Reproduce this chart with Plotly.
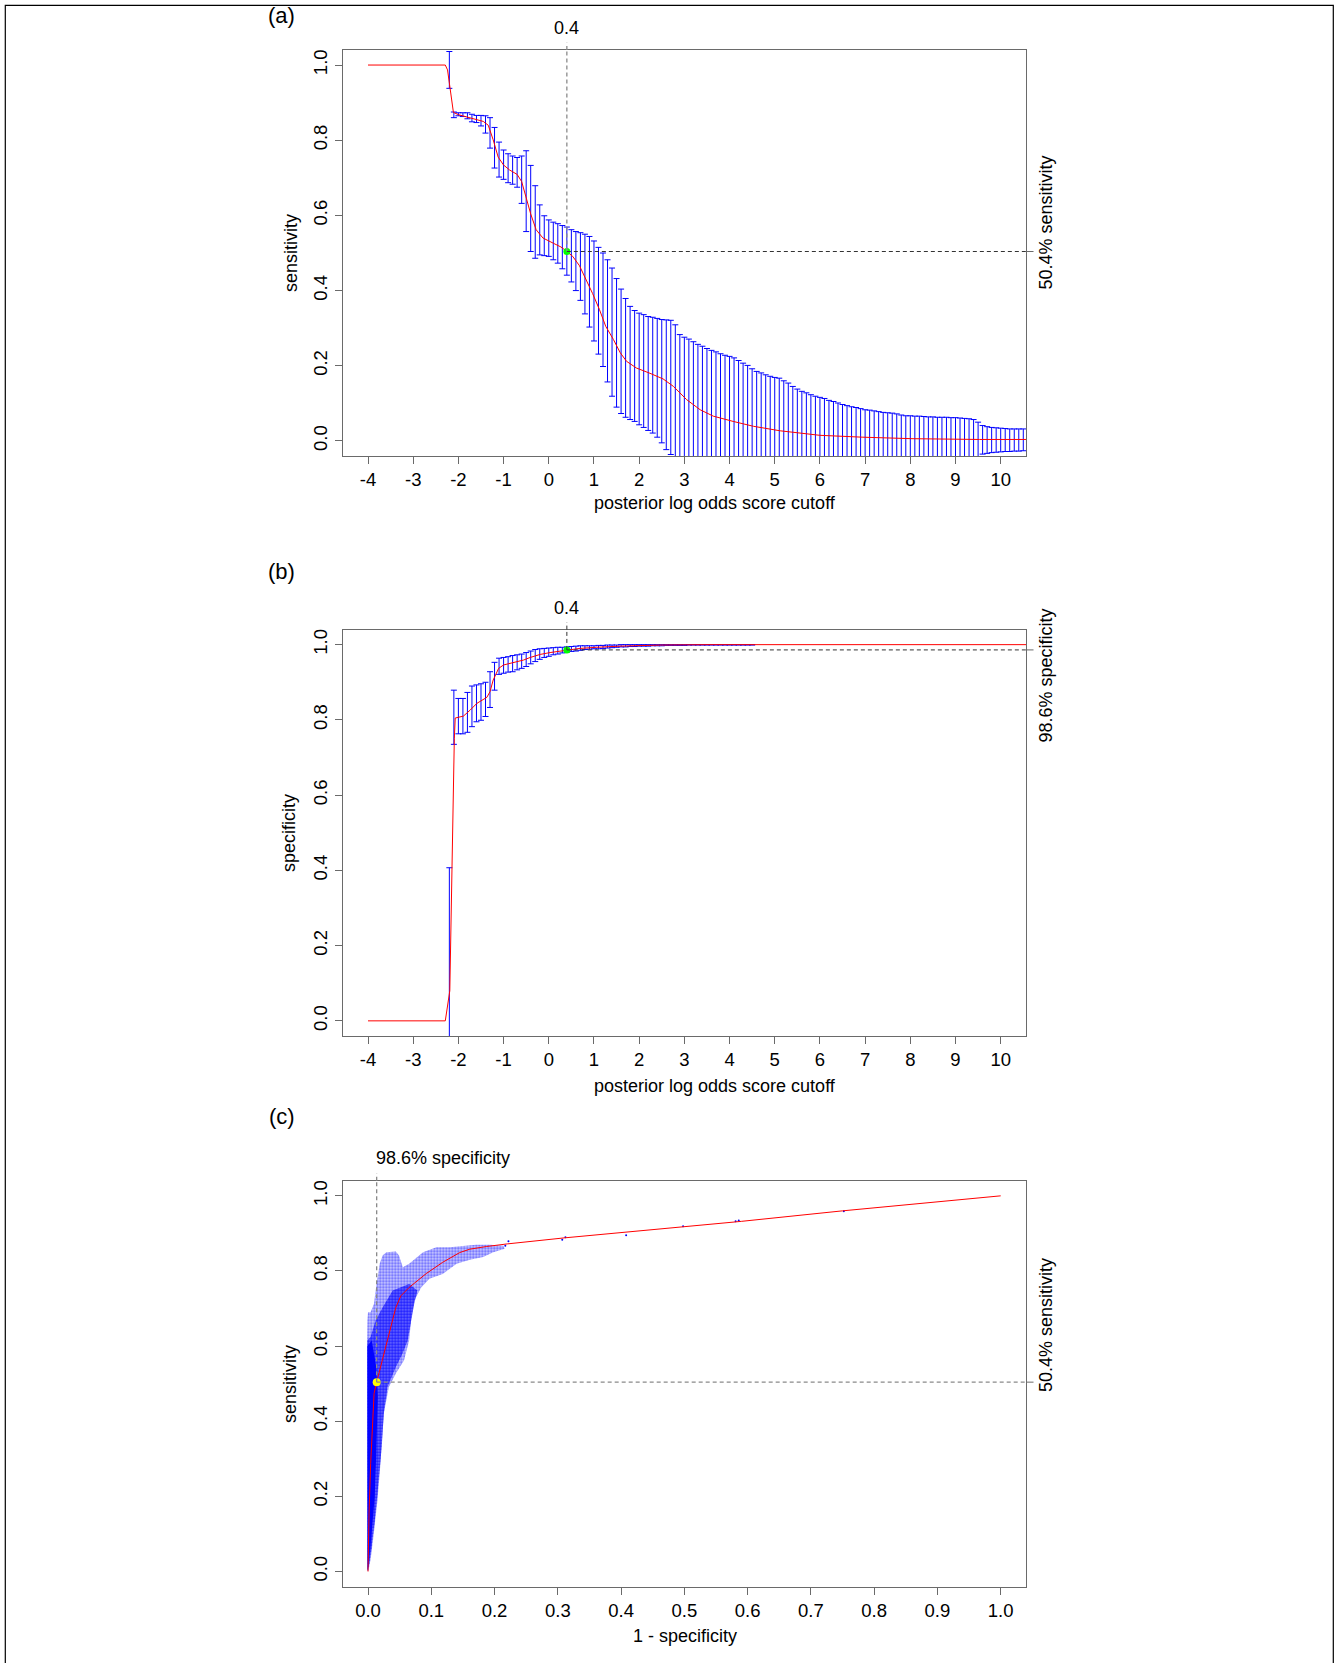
import plotly.graph_objects as go

W, H = 1335, 1663
FONT = "Liberation Sans, Arial, Helvetica, sans-serif"

# ---------------- panel (a): sensitivity vs cutoff ----------------
sens_cut = [-2.2, -2.1, -2.0, -1.9, -1.8, -1.7, -1.6, -1.5, -1.4, -1.3, -1.2, -1.1, -1.0, -0.9, -0.8, -0.7,
            -0.6, -0.5, -0.4, -0.3, -0.2, -0.1, 0.0, 0.1, 0.2, 0.3, 0.4, 0.5, 0.6, 0.7, 0.8, 0.9,
            1.0, 1.1, 1.2, 1.3, 1.4, 1.5, 1.6, 1.7, 1.8, 1.9, 2.0, 2.1, 2.2, 2.3, 2.4, 2.5,
            2.6, 2.7, 2.8, 2.9, 3.0, 3.1, 3.2, 3.3, 3.4, 3.5, 3.6, 3.7, 3.8, 3.9, 4.0, 4.1,
            4.2, 4.3, 4.4, 4.5, 4.6, 4.7, 4.8, 4.9, 5.0, 5.1, 5.2, 5.3, 5.4, 5.5, 5.6, 5.7,
            5.8, 5.9, 6.0, 6.1, 6.2, 6.3, 6.4, 6.5, 6.6, 6.7, 6.8, 6.9, 7.0, 7.1, 7.2, 7.3,
            7.4, 7.5, 7.6, 7.7, 7.8, 7.9, 8.0, 8.1, 8.2, 8.3, 8.4, 8.5, 8.6, 8.7, 8.8, 8.9,
            9.0, 9.1, 9.2, 9.3, 9.4, 9.5, 9.6, 9.7, 9.8, 9.9, 10.0, 10.1, 10.2, 10.3, 10.4, 10.5]
sens_hi = [1.036, 0.875, 0.873, 0.873, 0.873, 0.869, 0.866, 0.866, 0.865, 0.860, 0.834, 0.795, 0.774, 0.764, 0.758, 0.754,
           0.758, 0.772, 0.733, 0.679, 0.628, 0.599, 0.588, 0.582, 0.578, 0.573, 0.569, 0.562, 0.557, 0.554, 0.550, 0.544,
           0.532, 0.515, 0.500, 0.482, 0.460, 0.432, 0.404, 0.379, 0.358, 0.347, 0.340, 0.336, 0.331, 0.329, 0.326, 0.323,
           0.322, 0.321, 0.309, 0.283, 0.276, 0.271, 0.264, 0.257, 0.252, 0.246, 0.241, 0.237, 0.232, 0.228, 0.225, 0.221,
           0.214, 0.207, 0.201, 0.192, 0.185, 0.181, 0.176, 0.172, 0.169, 0.167, 0.160, 0.154, 0.145, 0.138, 0.132, 0.128,
           0.123, 0.119, 0.116, 0.113, 0.108, 0.105, 0.101, 0.097, 0.094, 0.091, 0.089, 0.086, 0.083, 0.082, 0.080, 0.078,
           0.076, 0.075, 0.074, 0.072, 0.069, 0.067, 0.067, 0.066, 0.066, 0.065, 0.064, 0.064, 0.063, 0.063, 0.063, 0.062,
           0.062, 0.061, 0.060, 0.059, 0.057, 0.050, 0.041, 0.038, 0.036, 0.035, 0.034, 0.033, 0.032, 0.032, 0.032, 0.032]
sens_lo = [0.938, 0.860, 0.865, 0.863, 0.857, 0.849, 0.847, 0.838, 0.819, 0.779, 0.726, 0.702, 0.696, 0.687, 0.683, 0.675,
           0.632, 0.557, 0.504, 0.486, 0.495, 0.493, 0.491, 0.482, 0.473, 0.458, 0.441, 0.423, 0.400, 0.374, 0.338, 0.303,
           0.266, 0.231, 0.198, 0.157, 0.119, 0.090, 0.073, 0.063, 0.057, 0.052, 0.043, 0.036, 0.028, 0.021, 0.010, -0.005,
           -0.023, -0.036, -0.050, -0.060, -0.065, -0.070, -0.070, -0.070, -0.070, -0.070, -0.070, -0.070, -0.070, -0.070, -0.070, -0.070,
           -0.070, -0.070, -0.070, -0.070, -0.070, -0.070, -0.070, -0.070, -0.070, -0.070, -0.070, -0.070, -0.070, -0.070, -0.070, -0.070,
           -0.070, -0.070, -0.070, -0.070, -0.070, -0.070, -0.070, -0.070, -0.070, -0.070, -0.070, -0.070, -0.070, -0.070, -0.070, -0.070,
           -0.070, -0.070, -0.070, -0.070, -0.070, -0.070, -0.070, -0.070, -0.070, -0.070, -0.070, -0.070, -0.070, -0.070, -0.070, -0.070,
           -0.070, -0.070, -0.065, -0.060, -0.055, -0.050, -0.035, -0.033, -0.031, -0.030, -0.029, -0.028, -0.028, -0.027, -0.027, -0.026]
sens_curve_x = [-4.0, -2.29, -2.24, -2.11, -2.0, -1.8, -1.6, -1.45, -1.34, -1.23, -1.12, -1.0, -0.87, -0.7, -0.6,
                -0.5, -0.4, -0.28, -0.13, 0.1, 0.27, 0.4, 0.53, 0.68, 0.83, 0.97, 1.12, 1.26, 1.43, 1.58, 1.72,
                1.94, 2.24, 2.53, 2.76, 3.05, 3.35, 3.64, 4.08, 4.53, 5.12, 6.0, 6.95, 8.06, 9.53, 10.6]
sens_curve_y = [1.0, 1.0, 0.987, 0.874, 0.868, 0.862, 0.856, 0.850, 0.840, 0.801, 0.755, 0.734, 0.721, 0.709, 0.690,
                0.648, 0.604, 0.562, 0.540, 0.526, 0.516, 0.504, 0.491, 0.466, 0.429, 0.392, 0.350, 0.305, 0.270, 0.235, 0.212,
                0.194, 0.180, 0.165, 0.145, 0.110, 0.083, 0.066, 0.052, 0.039, 0.027, 0.015, 0.010, 0.006, 0.004, 0.004]

# ---------------- panel (b): specificity vs cutoff ----------------
spec_cut = [-2.2, -2.1, -2.0, -1.9, -1.8, -1.7, -1.6, -1.5, -1.4, -1.3, -1.2, -1.1, -1.0, -0.9, -0.8, -0.7,
            -0.6, -0.5, -0.4, -0.3, -0.2, -0.1, 0.0, 0.1, 0.2, 0.3, 0.4, 0.5, 0.6, 0.7, 0.8, 0.9,
            1.0, 1.1, 1.2, 1.3, 1.4, 1.5, 1.6, 1.7, 1.8, 1.9, 2.0, 2.1, 2.2, 2.3, 2.4, 2.5,
            2.6, 2.7, 2.8, 2.9, 3.0, 3.1, 3.2, 3.3, 3.4, 3.5, 3.6, 3.7, 3.8, 3.9, 4.0, 4.1,
            4.2, 4.3, 4.4, 4.5]
spec_hi = [0.407, 0.879, 0.857, 0.857, 0.873, 0.890, 0.893, 0.896, 0.900, 0.928, 0.953, 0.964, 0.966, 0.968, 0.971, 0.973,
           0.975, 0.979, 0.983, 0.987, 0.989, 0.990, 0.991, 0.992, 0.993, 0.993, 0.994, 0.995, 0.996, 0.997, 0.997, 0.997,
           0.997, 0.998, 0.998, 0.999, 0.999, 0.999, 1.000, 1.000, 1.000, 1.000, 1.000, 1.000, 1.000, 1.000, 1.000, 1.000,
           1.000, 1.000, 1.000, 1.000, 1.000, 1.000, 1.000, 1.000, 1.000, 1.000, 1.000, 1.000, 1.000, 1.000, 1.000, 1.000,
           1.000, 1.000, 1.000, 1.000]
spec_lo = [-0.100, 0.735, 0.763, 0.763, 0.767, 0.782, 0.795, 0.799, 0.809, 0.833, 0.879, 0.921, 0.924, 0.927, 0.928, 0.933,
           0.937, 0.942, 0.949, 0.955, 0.961, 0.966, 0.969, 0.973, 0.975, 0.978, 0.980, 0.982, 0.983, 0.985, 0.987, 0.988,
           0.989, 0.989, 0.990, 0.991, 0.992, 0.993, 0.994, 0.994, 0.995, 0.995, 0.996, 0.996, 0.996, 0.997, 0.997, 0.997,
           0.998, 0.998, 0.998, 0.998, 0.998, 0.999, 0.999, 0.999, 0.999, 0.999, 0.999, 0.999, 0.999, 0.999, 0.999, 0.999,
           0.999, 0.999, 0.999, 0.999]
spec_curve_x = [-4.0, -2.29, -2.19, -2.12, -2.09, -2.07, -1.89, -1.74, -1.59, -1.37, -1.30, -1.23, -1.11, -1.0,
                -0.78, -0.56, -0.41, -0.19, 0.03, 0.25, 0.4, 0.69, 1.06, 1.58, 2.5, 3.5, 10.6]
spec_curve_y = [0.0, 0.0, 0.08, 0.60, 0.75, 0.805, 0.810, 0.826, 0.844, 0.860, 0.875, 0.906, 0.937, 0.946,
                0.952, 0.959, 0.966, 0.974, 0.979, 0.982, 0.986, 0.990, 0.993, 0.996, 0.999, 1.0, 1.0]

# ---------------- panel (c): ROC ----------------
roc_x = [0.0, 0.0016, 0.0042, 0.0069, 0.0096, 0.0137, 0.020, 0.028, 0.036, 0.044, 0.052, 0.065, 0.092, 0.118,
         0.145, 0.161, 0.187, 0.22, 0.31, 0.405, 0.5, 0.59, 0.75, 1.0]
roc_y = [0.0, 0.154, 0.287, 0.403, 0.474, 0.504, 0.544, 0.597, 0.650, 0.703, 0.734, 0.756, 0.793, 0.823,
         0.849, 0.858, 0.865, 0.872, 0.888, 0.903, 0.918, 0.932, 0.960, 1.0]
# outline of the bootstrap point cloud (sparse halo, medium-density and solid parts)
halo_x = [0.000, -0.001, -0.0015, -0.0015, -0.001, 0.000, 0.004, 0.0095, 0.012, 0.015, 0.0185, 0.023, 0.029, 0.044,
          0.049, 0.055, 0.065, 0.087, 0.108, 0.129, 0.155, 0.171, 0.193, 0.214, 0.216, 0.198, 0.182, 0.161, 0.140,
          0.118, 0.097, 0.084, 0.073, 0.068, 0.065, 0.057, 0.044, 0.033, 0.025, 0.022, 0.0185, 0.015, 0.012, 0.008,
          0.004, 0.001]
halo_y = [0.000, 0.243, 0.509, 0.615, 0.668, 0.690, 0.690, 0.713, 0.748, 0.784, 0.819, 0.841, 0.850, 0.852,
          0.841, 0.810, 0.819, 0.850, 0.863, 0.863, 0.867, 0.870, 0.870, 0.867, 0.859, 0.850, 0.837, 0.830, 0.819,
          0.792, 0.779, 0.756, 0.721, 0.668, 0.615, 0.562, 0.527, 0.491, 0.421, 0.332, 0.261, 0.190, 0.137, 0.084,
          0.031, 0.004]
mid_x = [-0.001, -0.001, 0.004, 0.012, 0.023, 0.039, 0.065, 0.078, 0.073, 0.068, 0.0626, 0.0546, 0.044, 0.0308,
         0.025, 0.0217, 0.017, 0.012, 0.006, 0.002]
mid_y = [0.000, 0.615, 0.624, 0.668, 0.703, 0.748, 0.765, 0.748, 0.712, 0.668, 0.615, 0.580, 0.544, 0.491,
         0.421, 0.332, 0.243, 0.155, 0.070, 0.020]
core_x = [-0.001, -0.001, 0.006, 0.010, 0.013, 0.0155, 0.0145, 0.0125, 0.0106, 0.006, 0.0016]
core_y = [0.000, 0.600, 0.615, 0.580, 0.544, 0.465, 0.376, 0.288, 0.199, 0.110, 0.021]
stray_x = [0.217, 0.222, 0.307, 0.312, 0.408, 0.498, 0.581, 0.586, 0.752]
stray_y = [0.867, 0.879, 0.883, 0.890, 0.895, 0.919, 0.932, 0.934, 0.959]

cut_opt = 0.4
sens_opt = 0.504
spec_opt = 0.986
fpr_opt = 0.0137

# ---------------- layout geometry (pixels) ----------------
XL, XR = 342.7, 1026.0
PANELS = {"a": (50.0, 456.0), "b": (629.6, 1035.9), "c": (1180.8, 1586.5)}


def fx(p):
    return p / W


def fy(p):
    return 1 - p / H


fig = go.Figure()

BLUE = "#0000ff"
RED = "#ff0000"
GREY = "#6a6a6a"

# (a)
fig.add_trace(go.Scatter(
    x=sens_cut, y=sens_lo, mode="markers", marker=dict(size=1, color="rgba(0,0,0,0)"),
    error_y=dict(type="data", symmetric=False, array=[h - l for h, l in zip(sens_hi, sens_lo)],
                 arrayminus=[0] * len(sens_lo), color=BLUE, thickness=1, width=3),
    xaxis="x", yaxis="y", hoverinfo="skip"))
fig.add_trace(go.Scatter(x=sens_curve_x, y=sens_curve_y, mode="lines", line=dict(color=RED, width=1),
                         xaxis="x", yaxis="y", hoverinfo="skip"))
fig.add_trace(go.Scatter(x=[cut_opt], y=[sens_opt], mode="markers", marker=dict(size=7, color="#00ff00"),
                         xaxis="x", yaxis="y", hoverinfo="skip"))

# (b)
fig.add_trace(go.Scatter(
    x=spec_cut, y=spec_lo, mode="markers", marker=dict(size=1, color="rgba(0,0,0,0)"),
    error_y=dict(type="data", symmetric=False, array=[h - l for h, l in zip(spec_hi, spec_lo)],
                 arrayminus=[0] * len(spec_lo), color=BLUE, thickness=1, width=3),
    xaxis="x2", yaxis="y2", hoverinfo="skip"))
fig.add_trace(go.Scatter(x=spec_curve_x, y=spec_curve_y, mode="lines", line=dict(color=RED, width=1),
                         xaxis="x2", yaxis="y2", hoverinfo="skip"))
fig.add_trace(go.Scatter(x=[cut_opt], y=[spec_opt], mode="markers", marker=dict(size=7, color="#00ff00"),
                         xaxis="x2", yaxis="y2", hoverinfo="skip"))

# (c)
fig.add_trace(go.Scatter(x=halo_x, y=halo_y, fill="toself", mode="lines", line=dict(width=0),
                         fillcolor="rgba(0,0,255,0.2)",
                         fillpattern=dict(shape=".", fgcolor=BLUE, bgcolor="rgba(0,0,255,0.2)", size=3,
                                          solidity=0.45),
                         xaxis="x3", yaxis="y3", hoverinfo="skip"))
fig.add_trace(go.Scatter(x=mid_x, y=mid_y, fill="toself", mode="lines", line=dict(width=0),
                         fillcolor="rgba(0,0,255,0.5)",
                         fillpattern=dict(shape=".", fgcolor=BLUE, bgcolor="rgba(0,0,255,0.45)", size=3,
                                          solidity=0.55),
                         xaxis="x3", yaxis="y3", hoverinfo="skip"))
fig.add_trace(go.Scatter(x=core_x, y=core_y, fill="toself", mode="lines", line=dict(width=0),
                         fillcolor="rgba(0,0,255,0.95)", xaxis="x3", yaxis="y3", hoverinfo="skip"))
fig.add_trace(go.Scatter(x=stray_x, y=stray_y, mode="markers", marker=dict(size=2, color=BLUE),
                         xaxis="x3", yaxis="y3", hoverinfo="skip"))
fig.add_trace(go.Scatter(x=roc_x, y=roc_y, mode="lines", line=dict(color=RED, width=1),
                         xaxis="x3", yaxis="y3", hoverinfo="skip"))
fig.add_trace(go.Scatter(x=[fpr_opt], y=[sens_opt], mode="markers", marker=dict(size=8, color="#ffff00"),
                         xaxis="x3", yaxis="y3", hoverinfo="skip"))

axis_common = dict(showline=True, linecolor=GREY, linewidth=1, mirror=True, ticks="outside", ticklen=7,
                   tickcolor=GREY, tickwidth=1, showgrid=False, zeroline=False,
                   tickfont=dict(family=FONT, size=18.5, color="black"))

cut_ticks = list(range(-4, 11))
cut_text = [str(v) for v in cut_ticks]
p_ticks = [0, 0.2, 0.4, 0.6, 0.8, 1.0]
p_text = ["0.0", "0.2", "0.4", "0.6", "0.8", "1.0"]
f_ticks = [0, 0.1, 0.2, 0.3, 0.4, 0.5, 0.6, 0.7, 0.8, 0.9, 1.0]
f_text = ["0.0", "0.1", "0.2", "0.3", "0.4", "0.5", "0.6", "0.7", "0.8", "0.9", "1.0"]

dom_x = [fx(XL), fx(XR)]
layout_axes = {}
for i, key in enumerate(["a", "b", "c"]):
    n = "" if i == 0 else str(i + 1)
    top, bot = PANELS[key]
    if key == "c":
        xr, xt, xtt = [-0.04, 1.04], f_ticks, f_text
    else:
        xr, xt, xtt = [-4.56, 10.56], cut_ticks, cut_text
    layout_axes["xaxis" + n] = dict(axis_common, domain=dom_x, anchor="y" + n, range=xr,
                                    tickvals=xt, ticktext=xtt, ticklabelstandoff=0)
    layout_axes["yaxis" + n] = dict(axis_common, domain=[fy(bot), fy(top)], anchor="x" + n,
                                    range=[-0.04, 1.04], tickvals=p_ticks, ticktext=p_text, tickangle=-90,
                                    ticklabelstandoff=0)

fig.update_layout(width=W, height=H, margin=dict(l=0, r=0, t=0, b=0), paper_bgcolor="white",
                  plot_bgcolor="white", showlegend=False, font=dict(family=FONT, size=18, color="black"),
                  **layout_axes)

shapes = []
dash = "4px,3px"
# (a) guides
shapes.append(dict(type="line", xref="x", yref="y", x0=cut_opt, x1=cut_opt, y0=sens_opt, y1=1.04,
                   line=dict(color="#8a8a8a", width=1.3, dash=dash)))
shapes.append(dict(type="line", xref="x", yref="y domain", x0=cut_opt, x1=cut_opt, y0=1, y1=1.018,
                   line=dict(color="#8a8a8a", width=1.3, dash=dash)))
shapes.append(dict(type="line", xref="x", yref="y", x0=cut_opt, x1=10.56, y0=sens_opt, y1=sens_opt,
                   line=dict(color="#333333", width=1, dash=dash)))
shapes.append(dict(type="line", xref="x domain", yref="y", x0=1, x1=1.011, y0=sens_opt, y1=sens_opt,
                   line=dict(color=GREY, width=1)))
# (b) guides
shapes.append(dict(type="line", xref="x2", yref="y2", x0=cut_opt, x1=cut_opt, y0=spec_opt, y1=1.04,
                   line=dict(color="#333333", width=1, dash=dash)))
shapes.append(dict(type="line", xref="x2", yref="y2 domain", x0=cut_opt, x1=cut_opt, y0=1, y1=1.018,
                   line=dict(color="#333333", width=1, dash=dash)))
shapes.append(dict(type="line", xref="x2", yref="y2", x0=cut_opt, x1=10.56, y0=spec_opt, y1=spec_opt,
                   line=dict(color="#333333", width=1, dash=dash)))
shapes.append(dict(type="line", xref="x2 domain", yref="y2", x0=1, x1=1.011, y0=spec_opt, y1=spec_opt,
                   line=dict(color=GREY, width=1)))
# (c) guides
shapes.append(dict(type="line", xref="x3", yref="y3", x0=fpr_opt, x1=fpr_opt, y0=sens_opt, y1=1.04,
                   line=dict(color="#8a8a8a", width=1.3, dash=dash)))
shapes.append(dict(type="line", xref="x3", yref="y3 domain", x0=fpr_opt, x1=fpr_opt, y0=1, y1=1.018,
                   line=dict(color="#8a8a8a", width=1.3, dash=dash)))
shapes.append(dict(type="line", xref="x3", yref="y3", x0=fpr_opt, x1=1.04, y0=sens_opt, y1=sens_opt,
                   line=dict(color="#8a8a8a", width=1.3, dash=dash)))
shapes.append(dict(type="line", xref="x3 domain", yref="y3", x0=1, x1=1.011, y0=sens_opt, y1=sens_opt,
                   line=dict(color=GREY, width=1)))
# outer frame
shapes.append(dict(type="rect", xref="paper", yref="paper", x0=fx(5.3), x1=fx(1333.3), y0=-0.02, y1=fy(5.3),
                   line=dict(color="black", width=1.2), fillcolor="rgba(0,0,0,0)"))
fig.update_layout(shapes=shapes)

ann = []
tf = dict(family=FONT, size=18, color="black")
# panel letters
for lab, yc in [("(a)", 15.7), ("(b)", 571.0), ("(c)", 1116.2)]:
    ann.append(dict(text=lab, xref="paper", yref="paper", x=fx(281.7), y=fy(yc), xanchor="center",
                    yanchor="middle", showarrow=False, font=dict(family=FONT, size=22, color="black")))
# axis titles
for txt, xc, yc in [("posterior log odds score cutoff", 715, 503.0),
                    ("posterior log odds score cutoff", 715, 1086.0),
                    ("1 - specificity", 684.5, 1636.0)]:
    ann.append(dict(text=txt, xref="paper", yref="paper", x=fx(xc), y=fy(yc), xanchor="center",
                    yanchor="middle", showarrow=False, font=tf))
for txt, xc, yc in [("sensitivity", 291.0, 253.0), ("specificity", 288.3, 832.8), ("sensitivity", 290.0, 1384.0)]:
    ann.append(dict(text=txt, xref="paper", yref="paper", x=fx(xc), y=fy(yc), xanchor="center",
                    yanchor="middle", showarrow=False, textangle=-90, font=tf))
# guide labels
ann.append(dict(text="0.4", xref="x", yref="y domain", x=cut_opt, y=1, yshift=22, xanchor="center",
                yanchor="middle", showarrow=False, font=tf))
ann.append(dict(text="0.4", xref="x2", yref="y2 domain", x=cut_opt, y=1, yshift=22, xanchor="center",
                yanchor="middle", showarrow=False, font=tf))
ann.append(dict(text="98.6% specificity", xref="x3", yref="y3 domain", x=0.010, y=1, yshift=22.6,
                xanchor="left", yanchor="middle", showarrow=False, font=tf))
for txt, yc in [("50.4% sensitivity", 223.0), ("98.6% specificity", 676.0), ("50.4% sensitivity", 1325.5)]:
    ann.append(dict(text=txt, xref="paper", yref="paper", x=fx(1045.6), y=fy(yc),
                    xanchor="center", yanchor="middle", textangle=-90, showarrow=False, font=tf))
fig.update_layout(annotations=ann)

fig.write_html("out.html", config={"displayModeBar": False, "staticPlot": True},
               post_script="document.body.style.margin='0';document.body.style.overflow='hidden';")
